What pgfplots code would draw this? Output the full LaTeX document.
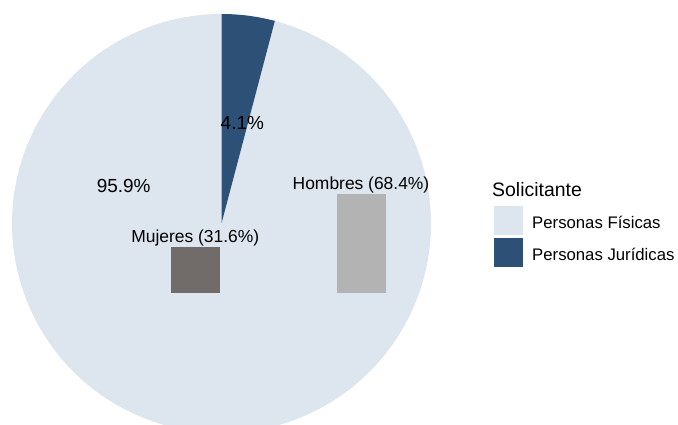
\documentclass[border=0pt]{standalone}
\usepackage{pgfplots}
\pgfplotsset{compat=1.18}
\usepackage{fontspec}
\setmainfont{Liberation Sans}
\definecolor{fis}{RGB}{221,229,239}
\definecolor{jur}{RGB}{45,80,119}
\definecolor{muj}{RGB}{113,107,106}
\definecolor{hom}{RGB}{179,179,179}
% data (percent)
\def\pFis{95.9}
\def\pJur{4.1}
\def\pMuj{31.6}
\def\pHom{68.4}
% pie geometry (pixel-like axis units)
\def\cx{221.5}
\def\cy{201.5}
\def\R{209.5}
\begin{document}
\begin{tikzpicture}
\pgfmathsetmacro\aJ{90-3.6*\pJur}
\pgfmathsetmacro\aF{90+3.6*\pFis}
\begin{axis}[at={(0,0)}, anchor=south west, scale only axis,
  width=678bp, height=425bp, xmin=0, xmax=678, ymin=0, ymax=425,
  hide axis, clip=true,
  legend cell align=left,
  legend image code/.code={\fill[#1] (0bp,-12bp) rectangle (29bp,17bp);},
  legend style={draw=none, fill=none, at={(axis cs:493.3,219)}, anchor=north west,
    inner sep=0pt, row sep=2.5bp, column sep=9.7bp,
    font=\fontsize{16.8}{20}\selectfont, nodes={inner sep=0pt}}]
\addplot[fill=fis, draw=none, domain=90:\aF, samples=240, variable=\t]
  ({\cx+\R*cos(\t)},{\cy+\R*sin(\t)}) -- (axis cs:\cx,\cy) -- cycle;
\addlegendentry{Personas Físicas}
\addplot[fill=jur, draw=none, domain=\aJ:90, samples=20, variable=\t]
  ({\cx+\R*cos(\t)},{\cy+\R*sin(\t)}) -- (axis cs:\cx,\cy) -- cycle;
\addlegendentry{Personas Jurídicas}
\node[anchor=base, inner sep=0pt, font=\fontsize{19}{22}\selectfont] at (axis cs:242.3,295) {\pJur\%};
\node[anchor=base, inner sep=0pt, font=\fontsize{19}{22}\selectfont] at (axis cs:123.7,232) {\pFis\%};
\node[anchor=base west, inner sep=0pt, font=\fontsize{19.5}{22}\selectfont] at (axis cs:492,228) {Solicitante};
\end{axis}
\begin{axis}[at={(0,0)}, anchor=south west, scale only axis,
  width=678bp, height=425bp, xmin=0, xmax=678, ymin=-90.52, ymax=201.58,
  hide axis, clip=false]
\addplot[ybar, bar shift=0pt, bar width=49.5, fill=muj, draw=none] coordinates {(195.3,31.6)};
\addplot[ybar, bar shift=0pt, bar width=49.5, fill=hom, draw=none] coordinates {(361.7,68.4)};
\node[anchor=base, inner sep=0pt, yshift=4.8bp, font=\fontsize{17.5}{20}\selectfont] at (axis cs:195.3,\pMuj) {Mujeres (\pMuj\%)};
\node[anchor=base, inner sep=0pt, yshift=4.3bp, font=\fontsize{17.5}{20}\selectfont] at (axis cs:361.0,\pHom) {Hombres (\pHom\%)};
\end{axis}
\pgfresetboundingbox
\path[use as bounding box] (0,0) rectangle (678bp,425bp);
\end{tikzpicture}
\end{document}
